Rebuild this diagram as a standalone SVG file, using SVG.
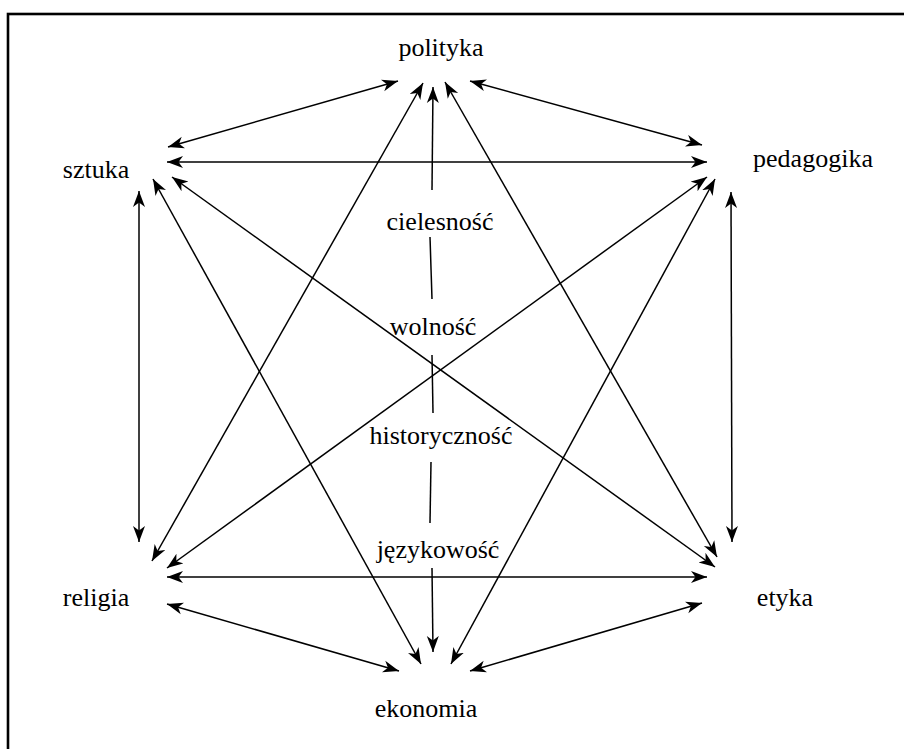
<svg xmlns="http://www.w3.org/2000/svg" width="904" height="749" viewBox="0 0 904 749">
<style>
.t{font-family:'Liberation Serif','Times New Roman','DejaVu Serif',serif;font-size:26px;fill:#000;text-anchor:middle}
.c line{stroke:#000;stroke-width:1.5;fill:none}
.a{marker-start:url(#ah);marker-end:url(#ah)}
</style>
<defs>
<marker id="ah" markerUnits="userSpaceOnUse" markerWidth="18" markerHeight="14" refX="16" refY="6.5" orient="auto-start-reverse">
<path d="M0,0.5 L16,6.5 L0,12.5 L4.5,6.5 z" fill="#000"/>
</marker>
</defs>
<rect width="904" height="749" fill="#fff"/>
<rect x="8" y="14" width="1000" height="1000" fill="none" stroke="#000" stroke-width="2.6"/>
<g id="connectors" class="c">
<line class="a" x1="168" y1="147" x2="398" y2="81"/>
<line class="a" x1="152" y1="561" x2="423" y2="83"/>
<line class="a" x1="445" y1="82" x2="717" y2="557"/>
<line class="a" x1="470" y1="81" x2="702" y2="145"/>
<line class="a" x1="167" y1="162" x2="707" y2="162"/>
<line class="a" x1="172" y1="177" x2="715" y2="567"/>
<line class="a" x1="153" y1="179" x2="421" y2="664"/>
<line class="a" x1="139" y1="191" x2="139" y2="542"/>
<line class="a" x1="707" y1="177" x2="167" y2="568"/>
<line class="a" x1="715" y1="179" x2="451" y2="664"/>
<line class="a" x1="731" y1="192" x2="732" y2="542"/>
<line class="a" x1="167" y1="577" x2="707" y2="577"/>
<line class="a" x1="167" y1="604" x2="399" y2="671"/>
<line class="a" x1="702" y1="603" x2="470" y2="671"/>
<line x1="432" y1="190" x2="433" y2="87" style="marker-end:url(#ah)"/>
<line x1="430" y1="237" x2="432" y2="299"/>
<line x1="432" y1="355" x2="433" y2="413"/>
<line x1="431" y1="462" x2="430" y2="523"/>
<line x1="432" y1="568" x2="433" y2="652" style="marker-end:url(#ah)"/>
</g>
<g id="polityka"><text class="t" x="441" y="56" font-family="Liberation Serif">polityka</text></g>
<g id="sztuka"><text class="t" x="96" y="178" font-family="Liberation Serif">sztuka</text></g>
<g id="pedagogika"><text class="t" x="813" y="167" font-family="Liberation Serif">pedagogika</text></g>
<g id="religia"><text class="t" x="96" y="606" font-family="Liberation Serif">religia</text></g>
<g id="etyka"><text class="t" x="785" y="606" font-family="Liberation Serif">etyka</text></g>
<g id="ekonomia"><text class="t" x="426" y="717" font-family="Liberation Serif">ekonomia</text></g>
<g id="cielesnosc"><text class="t" x="440" y="230" font-family="Liberation Serif">cielesność</text></g>
<g id="wolnosc"><text class="t" x="433" y="335" font-family="Liberation Serif">wolność</text></g>
<g id="historycznosc"><text class="t" x="441" y="444" font-family="Liberation Serif">historyczność</text></g>
<g id="jezykowosc"><text class="t" x="438" y="558" font-family="Liberation Serif">językowość</text></g>
</svg>
